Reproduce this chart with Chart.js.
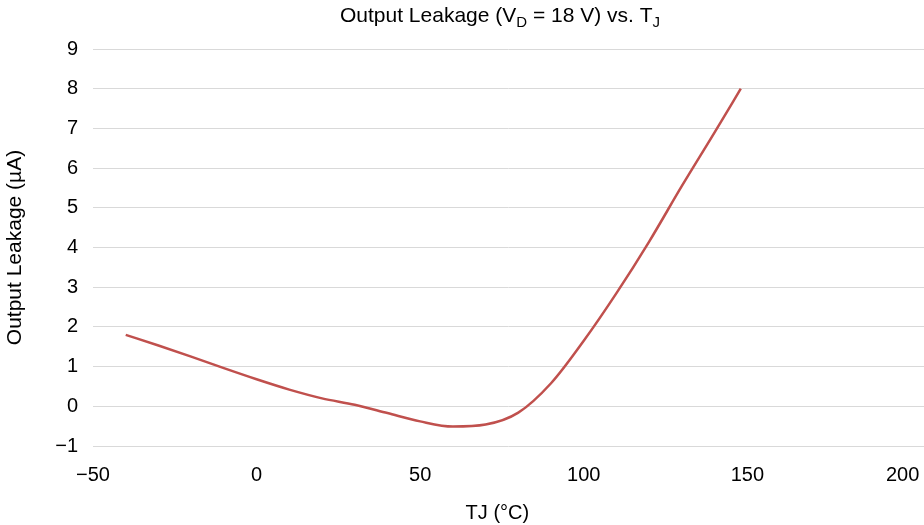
<!DOCTYPE html>
<html>
<head>
<meta charset="utf-8">
<script src="https://cdn.jsdelivr.net/npm/chart.js@4.4.0/dist/chart.umd.min.js"></script>
<style>
  html, body { margin: 0; padding: 0; background: #fff; }
  #wrap { position: relative; width: 924px; height: 525px; }
</style>
</head>
<body>
<div id="wrap"><canvas id="canvas" width="924" height="525"></canvas></div>
<script>
// data
const tempC = [-40, -30, -20, -10, 0, 10, 20, 30, 40, 50, 60, 70, 80, 90, 100, 110, 120, 130, 140, 148];
const leakage = [1.8, 1.53, 1.25, 0.96, 0.68, 0.42, 0.2, 0.04, -0.17, -0.38, -0.51, -0.46, -0.16, 0.58, 1.65, 2.85, 4.15, 5.55, 6.9, 8.0];
const xTicks = [-50, 0, 50, 100, 150, 200];
const yTicks = [-1, 0, 1, 2, 3, 4, 5, 6, 7, 8, 9];

const FONT = '"Liberation Sans", Arial, Helvetica, sans-serif';
const fmt = v => (v < 0 ? '\u2212' + Math.abs(v) : '' + v);

// title with subscripts
const titlePlugin = {
  id: 'subTitle',
  afterDraw(chart) {
    const ctx = chart.ctx;
    const parts = [
      ['Output Leakage (V', false], ['D', true], [' = 18 V) vs. T', false], ['J', true]
    ];
    const big = '21px ' + FONT, small = '15px ' + FONT;
    ctx.save();
    let w = 0;
    parts.forEach(p => { ctx.font = p[1] ? small : big; w += ctx.measureText(p[0]).width; });
    let x = 500 - w / 2;
    const base = 22;
    ctx.fillStyle = '#000';
    ctx.textBaseline = 'alphabetic';
    ctx.textAlign = 'left';
    parts.forEach(p => {
      ctx.font = p[1] ? small : big;
      ctx.fillText(p[0], x, p[1] ? base + 5 : base);
      x += ctx.measureText(p[0]).width;
    });
    ctx.restore();
  }
};

let ctx = document.getElementById('canvas').getContext('2d');
let myChart = new Chart(ctx, {
  type: 'scatter',
  data: {
    datasets: [{
      label: 'Output Leakage',
      data: tempC.map((t, i) => ({ x: t, y: leakage[i] })),
      showLine: true,
      borderColor: '#c0504d',
      borderWidth: 2.5,
      pointRadius: 0,
      tension: 0.4,
      cubicInterpolationMode: 'monotone'
    }]
  },
  options: {
    responsive: false,
    animation: false,
    layout: { padding: { top: 49, right: 0, left: 0, bottom: 0 } },
    plugins: { legend: { display: false }, tooltip: { enabled: false } },
    scales: {
      x: {
        type: 'linear',
        // a little room past 200 so the grid runs to the edge like the original
        min: -50, max: 204,
        afterBuildTicks: s => { s.ticks = xTicks.map(v => ({ value: v })); },
        afterFit: s => { s.height = 79; s.paddingRight = 0; },
        grid: { display: false, drawTicks: false },
        border: { display: false },
        ticks: { color: '#000', font: { family: FONT, size: 20 }, padding: 17, maxRotation: 0,
                 callback: v => (v === 200 ? fmt(v) + '   ' : fmt(v)) },
        title: { display: true, text: 'TJ (\u00b0C)    ', color: '#000', font: { family: FONT, size: 20 }, padding: { top: 10, bottom: 0 } }
      },
      y: {
        min: -1, max: 9,
        afterBuildTicks: s => { s.ticks = yTicks.map(v => ({ value: v })); },
        afterFit: s => { s.width = 93; },
        grid: { color: '#d9d9d9', lineWidth: 1, drawTicks: false },
        border: { display: false },
        ticks: { color: '#000', font: { family: FONT, size: 20 }, padding: 15, callback: fmt },
        title: { display: true, text: 'Output Leakage (\u00b5A)', color: '#000', font: { family: FONT, size: 21 }, padding: { top: 3, bottom: 10 } }
      }
    }
  },
  plugins: [titlePlugin]
});
</script>
</body>
</html>
